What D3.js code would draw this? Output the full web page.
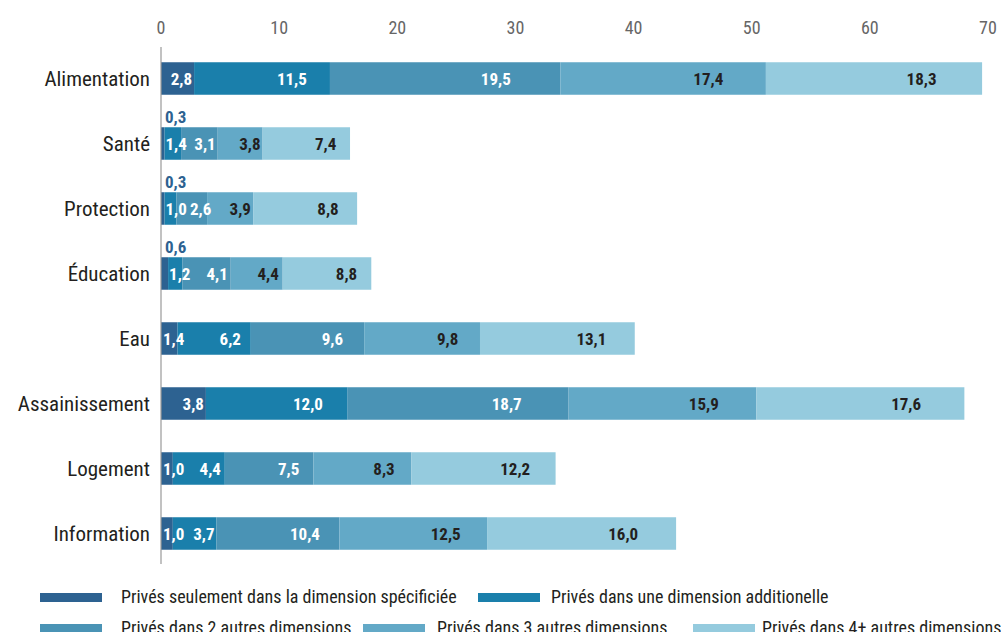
<!DOCTYPE html>
<html>
<head>
<meta charset="utf-8">
<script src="https://cdn.jsdelivr.net/npm/d3@7"></script>
<style>
  body { margin: 0; background: #fff; }
  svg { display: block; font-family: "Liberation Sans Narrow", "Roboto Condensed", "DejaVu Sans Condensed", "Arial Narrow", sans-serif; }
  .tick-label { fill: #666; font-size: 18px; }
  .cat-label { fill: #231f20; font-size: 21px; }
  .val { font-size: 17px; font-weight: bold; }
  .leg { fill: #231f20; font-size: 18px; }
</style>
</head>
<body>
<div id="chart"></div>
<script>
const categories = ['Alimentation', 'Santé', 'Protection', 'Éducation', 'Eau', 'Assainissement', 'Logement', 'Information'];
const seriesNames = [
    'Privés seulement dans la dimension spécificiée',
    'Privés dans une dimension additionelle',
    'Privés dans 2 autres dimensions',
    'Privés dans 3 autres dimensions',
    'Privés dans 4+ autres dimensions'
];
const onlyOne = [2.8, 0.3, 0.3, 0.6, 1.4, 3.8, 1.0, 1.0];
const plusOne = [11.5, 1.4, 1.0, 1.2, 6.2, 12.0, 4.4, 3.7];
const plusTwo = [19.5, 3.1, 2.6, 4.1, 9.6, 18.7, 7.5, 10.4];
const plusThree = [17.4, 3.8, 3.9, 4.4, 9.8, 15.9, 8.3, 12.5];
// the Éducation bar is drawn shorter (~7.5) than its printed label in the source
const plusFour = [18.3, 7.4, 8.8, 7.5, 13.1, 17.6, 12.2, 16.0];
const plusFourLabels = ['18,3', '7,4', '8,8', '8,8', '13,1', '17,6', '12,2', '16,0'];
const xTicks = [0, 10, 20, 30, 40, 50, 60, 70];

const colors = ['#2d6291', '#1a7fab', '#4a93b5', '#63a9c7', '#95cbde'];
const labelColors = ['#fff', '#fff', '#fff', '#231f20', '#231f20'];

const width = 1001, height = 632;
const svg = d3.select('#chart').append('svg')
    .attr('width', width)
    .attr('height', height);

const x = d3.scaleLinear().domain([0, 70]).range([161, 988]);
const y = d3.scaleBand().domain(categories).range([46, 566])
    .paddingInner(0.5).paddingOuter(0.25);

const allSeries = [onlyOne, plusOne, plusTwo, plusThree, plusFour];
const fmt = v => d3.format('.1f')(v).replace('.', ',');

// build stacked rows
const rows = categories.map((c, i) => {
    const row = { cat: c };
    allSeries.forEach((s, k) => row['s' + k] = s[i]);
    return row;
});
const stack = d3.stack().keys(allSeries.map((s, k) => 's' + k))(rows);

// x tick labels
svg.append('g').selectAll('text')
    .data(xTicks)
    .enter().append('text')
    .attr('class', 'tick-label')
    .attr('x', d => x(d))
    .attr('y', 34)
    .attr('text-anchor', 'middle')
    .text(d => d);

// bars
const layers = svg.append('g').selectAll('g')
    .data(stack)
    .enter().append('g')
    .attr('fill', (d, k) => colors[k]);

layers.selectAll('rect')
    .data(d => d)
    .enter().append('rect')
    .attr('x', d => x(d[0]))
    .attr('y', d => y(d.data.cat))
    .attr('width', d => x(d[1]) - x(d[0]))
    .attr('height', y.bandwidth());

// axis line
svg.append('line')
    .attr('x1', x(0)).attr('x2', x(0))
    .attr('y1', 47).attr('y2', 564)
    .attr('stroke', '#999').attr('stroke-width', 1.2);

// category labels
svg.append('g').selectAll('text')
    .data(categories)
    .enter().append('text')
    .attr('class', 'cat-label')
    .attr('x', 150)
    .attr('y', d => y(d) + y.bandwidth() / 2 + 7)
    .attr('text-anchor', 'end')
    .text(d => d);

// value labels, row by row so narrow ones don't collide
const valG = svg.append('g');
categories.forEach((c, i) => {
    let prevEnd = x(0) - 1;
    stack.forEach((layer, k) => {
        const d = layer[i];
        const v = d[1] - d[0];
        const txt = k === 4 ? plusFourLabels[i] : fmt(v);
        const x0 = x(d[0]), x1 = x(d[1]);
        const yc = y(c) + y.bandwidth() / 2;
        if (v < 0.8) {
            // too thin: label sits above the bar
            valG.append('text')
                .attr('class', 'val')
                .attr('x', x(0) + 4)
                .attr('y', y(c) - 4)
                .attr('fill', colors[0])
                .text(txt);
            return;
        }
        const t = valG.append('text')
            .attr('class', 'val')
            .attr('y', yc + 6)
            .attr('text-anchor', 'middle')
            .attr('fill', labelColors[k])
            .text(txt);
        const tw = t.node().getComputedTextLength();
        let cx = x0 + 0.72 * (x1 - x0);
        cx = Math.min(cx, x1 - tw / 2 - 2);
        cx = Math.max(cx, x0 + tw / 2 + 1, prevEnd + tw / 2 + 3);
        t.attr('x', cx);
        prevEnd = cx + tw / 2;
    });
});

// legend
const legendPos = [
    { sx: 40, tx: 121, y: 597 },
    { sx: 478, tx: 551, y: 597 },
    { sx: 40, tx: 121, y: 628 },
    { sx: 363, tx: 437, y: 628 },
    { sx: 693, tx: 762, y: 628 }
];
const legend = svg.append('g').selectAll('g')
    .data(seriesNames)
    .enter().append('g');

legend.append('rect')
    .attr('x', (d, k) => legendPos[k].sx)
    .attr('y', (d, k) => legendPos[k].y - 4)
    .attr('width', 62)
    .attr('height', 9)
    .attr('fill', (d, k) => colors[k]);

legend.append('text')
    .attr('class', 'leg')
    .attr('x', (d, k) => legendPos[k].tx)
    .attr('y', (d, k) => legendPos[k].y + 6)
    .text(d => d);
</script>
</body>
</html>
